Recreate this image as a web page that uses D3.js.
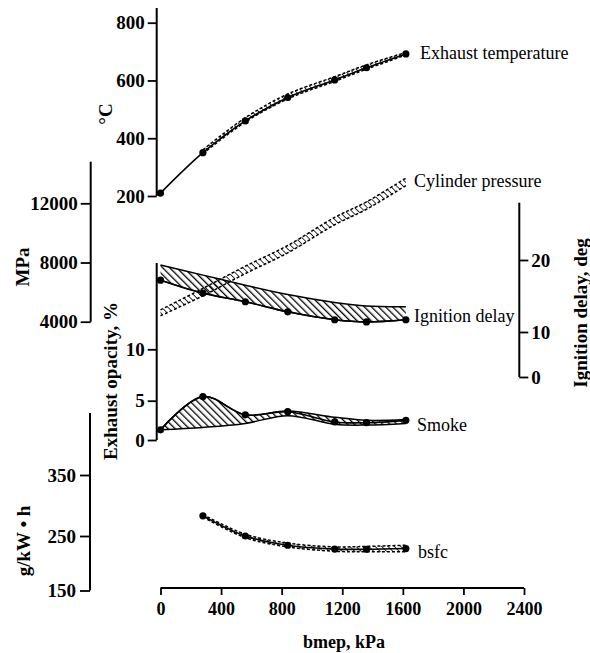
<!DOCTYPE html>
<html><head><meta charset="utf-8">
<script src="https://cdn.jsdelivr.net/npm/d3@7"></script>
<style>
html,body{margin:0;padding:0;background:#fff;}
text{font-family:"Liberation Serif","Times New Roman",serif;fill:#000;}
</style></head>
<body><svg id="c" width="590" height="653"></svg>
<script>
// ---------- data ----------
const bmep = [0, 280, 560, 840, 1150, 1360, 1620];
const xTicks = [0, 400, 800, 1200, 1600, 2000, 2400];

const exhTemp   = [210, 350, 460, 541, 602, 644, 692];
const exhTempLo = [null, 347, 456, 536, 597, 639, 688];
const exhTempHi = [null, 360, 471, 553, 613, 654, 697];
const tempTicks = [200, 400, 600, 800];

const cylPres   = [4600, 6000, 7500, 8900, 10800, 11850, 13450];
const cylPresLo = [4400, 5750, 7250, 8650, 10550, 11600, 13200];
const cylPresHi = [4800, 6250, 7750, 9150, 11050, 12100, 13700];
const presTicks = [4000, 8000, 12000];

const ignDelay   = [17.2, 15.4, 14.2, 12.8, 11.7, 11.4, 11.7];
const ignDelayHi = [19.3, 17.9, 16.5, 15.2, 14.1, 13.6, 13.5];
const ignTicks = [0, 10, 20];

const smoke   = [1.3, 5.4, 3.2, 3.6, 2.3, 2.2, 2.5];
const smokeLo = [1.3, 1.6, 2.1, 3.1, 2.0, 1.9, 2.1];
const smokeHi = [1.3, 5.4, 3.2, 3.7, 2.9, 2.5, 2.6];
const opacTicks = [0, 5, 10];

const bsfc   = [null, 283, 250, 233, 226, 225.5, 227];
const bsfcLo = [null, 281, 247, 230, 222, 221, 221];
const bsfcHi = [null, 285, 253, 237, 230, 231, 233];
const bsfcTicks = [150, 250, 350];

// ---------- scales ----------
const svg = d3.select("#c");
const x = d3.scaleLinear().domain([0, 2400]).range([160.5, 524]);
const yT = d3.scaleLinear().domain([200, 800]).range([196, 22.7]);
const yP = d3.scaleLinear().domain([4000, 12000]).range([321.7, 203.3]);
const yI = d3.scaleLinear().domain([0, 10, 20]).range([377, 332, 260]);
const yO = d3.scaleLinear().domain([0, 5, 10]).range([440, 400.7, 349.3]);
const yB = d3.scaleLinear().domain([150, 250, 350]).range([590.5, 536, 475]);

// ---------- patterns ----------
const defs = svg.append("defs");
function hatch(id, size, w) {
  const p = defs.append("pattern").attr("id", id).attr("patternUnits", "userSpaceOnUse")
    .attr("width", size).attr("height", size).attr("patternTransform", "rotate(-45)");
  p.append("line").attr("x1", 0).attr("y1", 0).attr("x2", 0).attr("y2", size)
    .attr("stroke", "#000").attr("stroke-width", w);
}
hatch("h1", 5, 2.6);
hatch("h2", 4.5, 1.6);

// ---------- axes ----------
const fmt = d3.format("d");
function styleAxis(g, fs) {
  g.select(".domain").remove();
  g.selectAll(".tick line").attr("stroke", "#000").attr("stroke-width", 1.8);
  g.selectAll(".tick text").style("font-size", fs + "px").style("font-weight", "bold")
    .style("font-family", '"Liberation Serif","Times New Roman",serif');
}
function vline(xp, y1, y2) {
  svg.append("line").attr("x1", xp).attr("x2", xp).attr("y1", y1).attr("y2", y2)
    .attr("stroke", "#000").attr("stroke-width", 2);
}
// x axis
const gx = svg.append("g").attr("transform", "translate(0,588)")
  .call(d3.axisBottom(x).tickValues(xTicks).tickSize(7).tickPadding(7).tickFormat(fmt));
styleAxis(gx, 18);
svg.append("line").attr("x1", x(0)).attr("x2", x(2400)).attr("y1", 588).attr("y2", 588)
  .attr("stroke", "#000").attr("stroke-width", 2);

// temperature axis
const gT = svg.append("g").attr("transform", "translate(156.7,0)")
  .call(d3.axisLeft(yT).tickValues(tempTicks).tickSize(9).tickPadding(3).tickFormat(fmt));
styleAxis(gT, 19);
vline(156.7, 8, 196);

// pressure axis
const gP = svg.append("g").attr("transform", "translate(90.7,0)")
  .call(d3.axisLeft(yP).tickValues(presTicks).tickSize(10).tickPadding(3).tickFormat(fmt));
styleAxis(gP, 19);
vline(90.7, 161.7, 321.7);

// ignition delay axis
const gI = svg.append("g").attr("transform", "translate(519.3,0)")
  .call(d3.axisRight(yI).tickValues(ignTicks).tickSize(9).tickPadding(3).tickFormat(fmt));
styleAxis(gI, 19);
vline(519.3, 202.7, 377);

// opacity axis
const gO = svg.append("g").attr("transform", "translate(156.7,0)")
  .call(d3.axisLeft(yO).tickValues(opacTicks).tickSize(9).tickPadding(3).tickFormat(fmt));
styleAxis(gO, 19);
vline(156.7, 263, 440);

// bsfc axis
const gB = svg.append("g").attr("transform", "translate(90,0)")
  .call(d3.axisLeft(yB).tickValues(bsfcTicks).tickSize(10).tickPadding(4).tickFormat(fmt));
styleAxis(gB, 19);
vline(90, 413, 590.5);

// axis titles
function vtitle(t, cx, cy) {
  svg.append("text").attr("transform", `translate(${cx},${cy}) rotate(-90)`)
    .attr("text-anchor", "middle").attr("dominant-baseline", "central")
    .style("font-size", "19px").style("font-weight", "bold").text(t);
}
vtitle("°C", 105, 114);
vtitle("MPa", 22, 267);
vtitle("Exhaust opacity, %", 110, 381);
vtitle("Ignition delay, deg", 580, 313);
vtitle("g/kW • h", 23, 541);
svg.append("text").attr("x", 344).attr("y", 642).attr("text-anchor", "middle")
  .attr("dominant-baseline", "central").style("font-size", "18px").style("font-weight", "bold")
  .text("bmep, kPa");

// ---------- series ----------
const idx = d3.range(bmep.length);
function band(lo, hi, ys, pat, dashed) {
  const ii = idx.filter(i => lo[i] != null && hi[i] != null);
  const area = d3.area().x(i => x(bmep[i])).y0(i => ys(lo[i])).y1(i => ys(hi[i])).curve(d3.curveCatmullRom);
  svg.append("path").attr("d", area(ii)).attr("fill", `url(#${pat})`).attr("stroke", "none");
  const edge = arr => d3.line().x(i => x(bmep[i])).y(i => ys(arr[i])).curve(d3.curveCatmullRom)(ii);
  [lo, hi].forEach(arr => svg.append("path").attr("d", edge(arr)).attr("fill", "none")
    .attr("stroke", "#000").attr("stroke-width", 1.5)
    .attr("stroke-dasharray", dashed ? "3,2" : null));
}
function series(vals, ys, dots) {
  const ii = idx.filter(i => vals[i] != null);
  svg.append("path").attr("d", d3.line().x(i => x(bmep[i])).y(i => ys(vals[i])).curve(d3.curveCatmullRom)(ii))
    .attr("fill", "none").attr("stroke", "#000").attr("stroke-width", 1.6);
  if (dots) svg.selectAll(null).data(ii).enter().append("circle")
    .attr("cx", i => x(bmep[i])).attr("cy", i => ys(vals[i])).attr("r", 3.6).attr("fill", "#000");
}

band(exhTempLo, exhTempHi, yT, "h2", true);
series(exhTemp, yT, true);

band(cylPresLo, cylPresHi, yP, "h2", true);

band(ignDelay, ignDelayHi, yI, "h1", false);
series(ignDelay, yI, true);

band(smokeLo, smokeHi, yO, "h1", false);
series(smoke, yO, true);

band(bsfcLo, bsfcHi, yB, "h2", true);
series(bsfc, yB, true);

// series labels
const labels = [["Exhaust temperature", 420, 53], ["Cylinder pressure", 414, 181],
  ["Ignition delay", 414, 316], ["Smoke", 417, 425], ["bsfc", 418, 552]];
labels.forEach(([t, lx, ly]) => svg.append("text").attr("x", lx).attr("y", ly)
  .attr("dominant-baseline", "central").style("font-size", "18px").text(t));
</script></body></html>
